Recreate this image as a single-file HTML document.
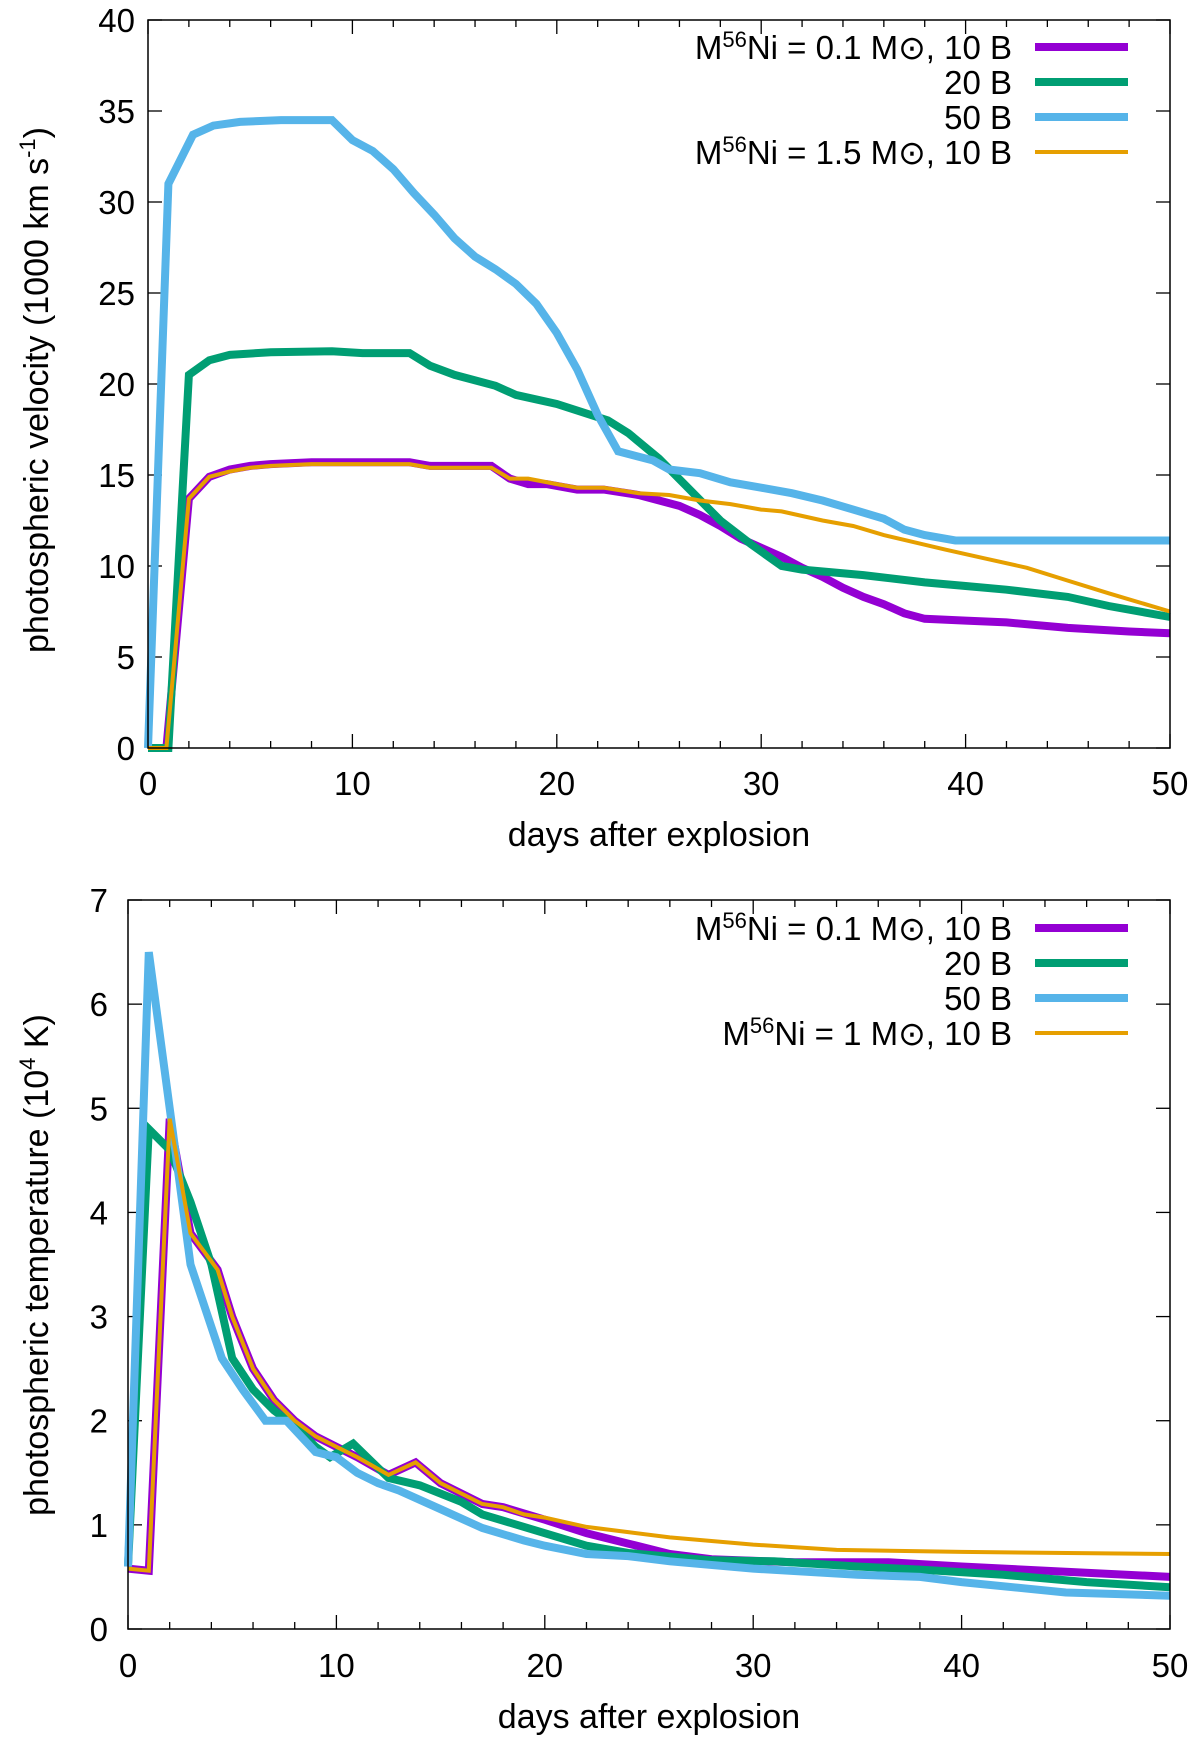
<!DOCTYPE html>
<html><head><meta charset="utf-8"><style>
body{margin:0;background:#fff}
svg{display:block;font-family:"Liberation Sans",sans-serif}
</style></head><body>
<svg id="c" width="1200" height="1740"></svg>
<script>
// ---- data: velocity panel ----
const vPurpleX=[0,0.9,2,3,4,5,6,8,10,12.8,13.8,16.8,17.7,18.6,19.5,21,22.3,24,26,27,28,29,30,31,32,33,34,35,36,37,38,40,42,45,48,50];
const vPurpleY=[0,0,13.7,14.9,15.3,15.5,15.6,15.7,15.7,15.7,15.5,15.5,14.8,14.5,14.5,14.2,14.2,13.9,13.3,12.8,12.2,11.5,11,10.5,9.9,9.4,8.8,8.3,7.9,7.4,7.1,7.0,6.9,6.6,6.4,6.3];
const vOrangeX=[0,0.9,2,3,4,5,6,8,10,12.8,13.8,16.8,17.7,18.6,20,21,22.3,24,25.5,27,28.5,30,31,33,34.5,36,37.5,39,41,43,45,47,50];
const vOrangeY=[0,0,13.7,14.9,15.2,15.4,15.5,15.6,15.6,15.6,15.4,15.4,14.8,14.8,14.5,14.3,14.3,14,13.9,13.6,13.4,13.1,13,12.5,12.2,11.7,11.3,10.9,10.4,9.9,9.2,8.5,7.5];
const vGreenX=[0,1,2,3,4,6,9,10.5,12.8,13.8,15,17,18,20,22.5,23.5,25,26.5,28,29.5,31,32,35,38,40,42,45,47,50];
const vGreenY=[0,0,20.5,21.3,21.6,21.75,21.8,21.7,21.7,21,20.5,19.9,19.4,18.9,18,17.3,15.9,14.2,12.5,11.2,10,9.8,9.5,9.1,8.9,8.7,8.3,7.8,7.2];
const vBlueX=[0,1,2.2,3.2,4.5,6.5,9,10,11,12,13,14,15,16,17,18,19,20,21,22,23,24.7,25.5,27,28.5,30,31.5,33,34.5,36,37,38,39.5,50];
const vBlueY=[0,31,33.7,34.2,34.4,34.5,34.5,33.4,32.8,31.8,30.5,29.3,28,27,26.3,25.5,24.4,22.8,20.8,18.3,16.3,15.8,15.3,15.1,14.6,14.3,14.0,13.6,13.1,12.6,12,11.7,11.4,11.4];
const vYTicks=[0,5,10,15,20,25,30,35,40];
const xTicks=[0,10,20,30,40,50];
// ---- data: temperature panel ----
const tBlueX=[0,1,2,3,4.5,5.5,6.6,7.6,9,10,11,12,13,15,17,19,20,22,24,26,30,35,38,40,45,50];
const tBlueY=[0.6,6.5,5,3.5,2.6,2.3,2.0,2.0,1.7,1.65,1.5,1.4,1.33,1.15,0.97,0.85,0.8,0.72,0.7,0.65,0.58,0.52,0.5,0.45,0.35,0.32];
const tGreenX=[0,1,2,3,4,5,6,7,8,9,9.7,10.8,12.5,14,16,17,20,22,24,28,31,35,38,42,46,50];
const tGreenY=[0.6,4.8,4.6,4.1,3.5,2.6,2.3,2.1,1.95,1.75,1.65,1.78,1.45,1.38,1.22,1.1,0.92,0.8,0.73,0.66,0.65,0.6,0.57,0.52,0.45,0.4];
const tPurpleX=[0,1,2,3,4.3,5,6,7,8,9,10,11,12.5,13.8,15,17,18,20,22,24,26,28,32,36.5,40,45,50];
const tPurpleY=[0.58,0.56,4.9,3.8,3.45,3.0,2.5,2.2,2.0,1.85,1.75,1.65,1.48,1.6,1.4,1.2,1.17,1.05,0.92,0.82,0.72,0.67,0.64,0.64,0.6,0.55,0.5];
const tOrangeX=[0,1,2,3,4.3,5,6,7,8,9,10,11,12.5,13.8,15,17,18,19,20,22,24,26,30,34,40,50];
const tOrangeY=[0.58,0.56,4.9,3.8,3.45,3.0,2.5,2.2,2.0,1.85,1.75,1.65,1.48,1.6,1.4,1.2,1.17,1.1,1.07,0.98,0.93,0.88,0.81,0.76,0.74,0.72];
const tYTicks=[0,1,2,3,4,5,6,7];

const NS="http://www.w3.org/2000/svg";
const svg=document.getElementById('c');
function mk(tag,attrs,parent){const e=document.createElementNS(NS,tag);for(const k in attrs)e.setAttribute(k,attrs[k]);(parent||svg).appendChild(e);return e;}
const COL={p:'#9400d3',g:'#009e73',b:'#56b4e9',o:'#e69f00'};

function panel(P){
  const g=mk('g',{});
  
  
  const sx=v=>P.x0+(v-0)/50*(P.x1-P.x0);
  const sy=v=>P.y1-(v-0)/P.ymax*(P.y1-P.y0);
  for(let d=0;d<=50;d+=2){
    const major=d%10===0, L=major?14:7;
    mk('line',{x1:sx(d),x2:sx(d),y1:P.y1,y2:P.y1-L,stroke:'#000','stroke-width':1.3},g);
    mk('line',{x1:sx(d),x2:sx(d),y1:P.y0,y2:P.y0+L,stroke:'#000','stroke-width':1.3},g);
  }
  xTicks.forEach(t=>{
    const tx=mk('text',{x:sx(t),y:P.xl,'text-anchor':'middle','font-size':33},g);
    tx.textContent=t;
    
    
  });
  P.yt.forEach(t=>{
    mk('line',{x1:P.x0,x2:P.x0+14,y1:sy(t),y2:sy(t),stroke:'#000','stroke-width':1.3},g);
    mk('line',{x1:P.x1,x2:P.x1-14,y1:sy(t),y2:sy(t),stroke:'#000','stroke-width':1.3},g);
    const tx=mk('text',{x:P.x0-P.yoff,y:sy(t)+12,'text-anchor':'end','font-size':33},g);
    tx.textContent=t;
    
    
  });
  P.series.forEach(s=>{
    const pts=s.x.map((v,i)=>sx(v).toFixed(1)+','+sy(s.y[i]).toFixed(1)).join(' ');
    const pl=mk('polyline',{points:pts,fill:'none',stroke:s.c,'stroke-width':s.w,'stroke-linejoin':'miter'},g);
    
    
  });
  mk('rect',{x:P.x0,y:P.y0,width:P.x1-P.x0,height:P.y1-P.y0,fill:'none',stroke:'#000','stroke-width':1.5},g);
  P.legend.forEach((L,i)=>{
    const y=P.ly[i];
    const t=mk('text',{x:1012,y:y+12,'text-anchor':'end','font-size':33},g);
    t.innerHTML=L.t;
    
    
    mk('line',{x1:1035,x2:1128,y1:y,y2:y,stroke:L.c,'stroke-width':L.w},g);
  });
  const xt=mk('text',{x:(P.x0+P.x1)/2,y:P.xt,'text-anchor':'middle','font-size':34},g);
  xt.textContent='days after explosion';
  
  
  const yt=mk('text',{x:0,y:0,'text-anchor':'middle','font-size':34,transform:`translate(48,${P.ytc}) rotate(-90)`},g);
  yt.innerHTML=P.ytitle;
  
  
}
const ni=n=>`M<tspan dy="-12" font-size="22">56</tspan><tspan dy="12">Ni = ${n} M⊙, 10 B</tspan>`;
panel({name:'velocity-panel',x0:148,x1:1170,y0:20,y1:748,ymax:40,yt:vYTicks,yoff:13,xl:795,xt:846,ytc:390,
  ytitle:'photospheric velocity (1000 km s<tspan dy="-13" font-size="22">-1</tspan><tspan dy="13">)</tspan>',
  ly:[47,82,117,152],
  legend:[{t:ni('0.1'),c:COL.p,w:8},{t:'20 B',c:COL.g,w:8},{t:'50 B',c:COL.b,w:8},{t:ni('1.5'),c:COL.o,w:4}],
  series:[{name:'series-0.1ni-10b',x:vPurpleX,y:vPurpleY,c:COL.p,w:8},
    {name:'series-20b',x:vGreenX,y:vGreenY,c:COL.g,w:8},
    {name:'series-50b',x:vBlueX,y:vBlueY,c:COL.b,w:8},
    {name:'series-1.5ni-10b',x:vOrangeX,y:vOrangeY,c:COL.o,w:4}]});
panel({name:'temperature-panel',x0:128,x1:1170,y0:900,y1:1629,ymax:7,yt:tYTicks,yoff:20,xl:1677,xt:1728,ytc:1265,
  ytitle:'photospheric temperature (10<tspan dy="-13" font-size="22">4</tspan><tspan dy="13"> K)</tspan>',
  ly:[928,963,998,1033],
  legend:[{t:ni('0.1'),c:COL.p,w:8},{t:'20 B',c:COL.g,w:8},{t:'50 B',c:COL.b,w:8},{t:ni('1'),c:COL.o,w:4}],
  series:[{name:'series-0.1ni-10b',x:tPurpleX,y:tPurpleY,c:COL.p,w:8},
    {name:'series-20b',x:tGreenX,y:tGreenY,c:COL.g,w:8},
    {name:'series-50b',x:tBlueX,y:tBlueY,c:COL.b,w:8},
    {name:'series-1ni-10b',x:tOrangeX,y:tOrangeY,c:COL.o,w:4}]});
</script>
</body></html>
